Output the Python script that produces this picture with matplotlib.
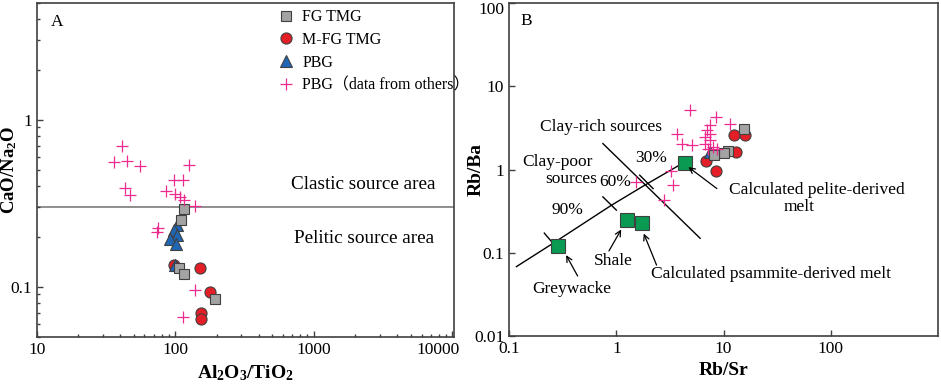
import matplotlib
matplotlib.use("Agg")
from matplotlib import pyplot as plt, ticker, transforms

plt.rcParams['font.family'] = ['Liberation Serif', 'Noto Sans CJK SC']
plt.rcParams['mathtext.fontset'] = 'custom'
plt.rcParams['mathtext.rm'] = 'Liberation Serif'
plt.rcParams['mathtext.bf'] = 'Liberation Serif:bold'

# Panel A data (Al2O3/TiO2 vs CaO/Na2O)
a_fg_x = [116.6, 109.8, 105.7, 116.6, 194.5]
a_fg_y = [0.291, 0.250, 0.130, 0.119, 0.084]
a_mfg_x = [98.4, 151.7, 179.0, 153.5, 153.5]
a_mfg_y = [0.135, 0.129, 0.093, 0.070, 0.064]
a_pbg_x = [102.8, 97.3, 102.8, 92.1, 101.6, 100.0]
a_pbg_y = [0.233, 0.218, 0.203, 0.192, 0.181, 0.136]
a_oth_x = [41.2, 36.4, 44.8, 55.8, 43.5, 47.3, 124.8, 97.3, 113.7, 86.1, 100.0,
           107.4, 114.8, 139.6, 75.7, 73.8, 139.6, 113.7]
a_oth_y = [0.695, 0.561, 0.565, 0.528, 0.390, 0.356, 0.533, 0.438, 0.438, 0.374, 0.361,
           0.345, 0.333, 0.303, 0.226, 0.213, 0.0955, 0.066]
a_boundary = 0.3
a_xticks = [10, 100, 1000, 10000]
a_xticklabels = ['10', '100', '1000', '10000']
a_yticks = [0.1, 1]
a_yticklabels = ['0.1', '1']

# Panel B data (Rb/Sr vs Rb/Ba)
b_fg_x = [15.4, 11.1, 10.0, 8.17]
b_fg_y = [3.05, 1.66, 1.56, 1.49]
b_mfg_x = [12.6, 15.9, 13.1, 6.83, 8.53]
b_mfg_y = [2.63, 2.63, 1.63, 1.27, 0.96]
b_pbg_x = [7.5]
b_pbg_y = [1.63]
b_oth_x = [4.9, 8.4, 11.5, 7.4, 7.0, 3.7, 7.4, 6.7, 4.1, 7.5, 5.1, 6.7, 8.0, 7.2, 8.6,
           3.2, 3.4, 1.54, 2.8]
b_oth_y = [5.2, 4.3, 3.55, 3.4, 2.95, 2.7, 2.7, 2.45, 2.05, 2.25, 1.95, 2.05, 1.87, 1.78, 1.74,
           0.97, 0.66, 0.71, 0.43]
b_ref_x = [0.287, 1.26, 1.73, 4.33]
b_ref_y = [0.12, 0.247, 0.225, 1.21]
mix_x = [0.117, 0.255, 0.90, 1.84, 4.2]
mix_y = [0.068, 0.129, 0.372, 0.648, 1.2]
mix_ticks = [((0.213, 0.172), (0.27, 0.12)),
             ((0.749, 0.469), (1.0, 0.325)),
             ((1.65, 0.855), (2.2, 0.59))]
divide_x = [0.749, 6.04]
divide_y = [2.05, 0.149]
b_xticks = [0.1, 1, 10, 100]
b_xticklabels = ['0.1', '1', '10', '100']
b_yticks = [0.01, 0.1, 1, 10, 100]
b_yticklabels = ['0.01', '0.1', '1', '10', '100']

gray, red, blue, pink, green = '#a3a3a3', '#e41e26', '#1f66b5', '#ee2a8f', '#0a9a52'
edge = '#404040'
spine_col = '#404040'
fs = 12.5

fig = plt.figure(figsize=(9.41, 3.87), dpi=100)
axA = fig.add_axes([0.039, 0.129, 0.4435, 0.863])
axB = fig.add_axes([0.541, 0.132, 0.456, 0.860])

def style(ax):
    for s in ax.spines.values():
        s.set_color(spine_col)
        s.set_linewidth(1.2)
    ax.tick_params(which='both', direction='in', colors=spine_col, labelcolor='black',
                   labelsize=12.5, width=1)
    ax.tick_params(which='major', length=4)
    ax.tick_params(which='minor', length=2.5)

# ---- Panel A ----
axA.set_xscale('log')
axA.set_yscale('log')
axA.axhline(a_boundary, color='#707070', lw=1.1, zorder=1)
axA.plot(a_mfg_x, a_mfg_y, 'o', ms=8, mfc=red, mec=edge, mew=0.8, ls='none', label='M-FG TMG', zorder=3)
axA.plot(a_pbg_x, a_pbg_y, '^', ms=9, mfc=blue, mec=edge, mew=0.8, ls='none', label='PBG', zorder=4)
axA.plot(a_fg_x, a_fg_y, 's', ms=7.5, mfc=gray, mec=edge, mew=0.8, ls='none', label='FG TMG', zorder=5)
axA.plot(a_oth_x, a_oth_y, '+', ms=9, color=pink, mew=0.9, ls='none', label='PBG（data from others）', zorder=6)
axA.set_xlim(10, 10300)
axA.set_ylim(0.05, 5)
axA.xaxis.set_major_locator(ticker.FixedLocator(a_xticks))
axA.xaxis.set_major_formatter(ticker.FixedFormatter(a_xticklabels))
axA.yaxis.set_major_locator(ticker.FixedLocator(a_yticks))
axA.yaxis.set_major_formatter(ticker.FixedFormatter(a_yticklabels))
axA.xaxis.set_minor_locator(ticker.LogLocator(subs=range(2, 10)))
axA.yaxis.set_minor_locator(ticker.LogLocator(subs=range(2, 10)))
axA.xaxis.set_minor_formatter(ticker.NullFormatter())
axA.yaxis.set_minor_formatter(ticker.NullFormatter())
style(axA)
axA.set_xlabel(r'$\mathbf{Al_2O_3/TiO_2}$', fontsize=14, labelpad=4)
axA.set_ylabel(r'$\mathbf{CaO/Na_2O}$', fontsize=13.5)
axA.yaxis.set_label_coords(-0.043, 0.5)
axA.text(0.048, 0.944, 'A', transform=axA.transAxes, fontsize=fs, va='center', ha='center')
axA.text(2260, 0.409, 'Clastic source area', fontsize=13.8, ha='center', va='center')
axA.text(2290, 0.194, 'Pelitic source area', fontsize=13.8, ha='center', va='center')
h, l = axA.get_legend_handles_labels()
order = [2, 0, 1, 3]
axA.legend([h[i] for i in order], [l[i] for i in order], loc='upper left',
           bbox_to_anchor=(0.556, 1.01), frameon=False, fontsize=11.5, handlelength=1.0,
           handletextpad=0.5, labelspacing=0.42, borderaxespad=0.2)

# ---- Panel B ----
axB.set_xscale('log')
axB.set_yscale('log')
axB.plot(mix_x, mix_y, color='black', lw=1, zorder=2)
for (x0, y0), (x1, y1) in mix_ticks:
    axB.plot([x0, x1], [y0, y1], color='black', lw=1, zorder=2)
axB.plot(divide_x, divide_y, color='black', lw=1, zorder=2)
axB.plot(b_ref_x, b_ref_y, 's', ms=10, mfc=green, mec=edge, mew=0.8, ls='none', zorder=3)
axB.plot(b_mfg_x, b_mfg_y, 'o', ms=8, mfc=red, mec=edge, mew=0.8, ls='none', zorder=3)
axB.plot(b_pbg_x, b_pbg_y, '^', ms=9, mfc=blue, mec=edge, mew=0.8, ls='none', zorder=4)
axB.plot(b_fg_x, b_fg_y, 's', ms=7.5, mfc=gray, mec=edge, mew=0.8, ls='none', zorder=5)
axB.plot(b_oth_x, b_oth_y, '+', ms=9, color=pink, mew=0.9, ls='none', zorder=6)
axB.set_xlim(0.1, 1000)
axB.set_ylim(0.01, 100)
axB.xaxis.set_major_locator(ticker.FixedLocator(b_xticks))
axB.xaxis.set_major_formatter(ticker.FixedFormatter(b_xticklabels))
axB.yaxis.set_major_locator(ticker.FixedLocator(b_yticks))
axB.yaxis.set_major_formatter(ticker.FixedFormatter(b_yticklabels))
axB.xaxis.set_minor_locator(ticker.NullLocator())
axB.yaxis.set_minor_locator(ticker.NullLocator())
style(axB)
axB.set_xlabel('Rb/Sr', fontsize=14, fontweight='bold', labelpad=4)
axB.set_ylabel('Rb/Ba', fontsize=14, fontweight='bold')
axB.yaxis.set_label_coords(-0.057, 0.5)
axB.text(0.039, 0.947, 'B', transform=axB.transAxes, fontsize=fs, va='center', ha='center')

arr = dict(arrowstyle='->', color='black', lw=0.9, shrinkA=0, shrinkB=0)
axB.annotate('', xy=(0.34, 0.0936), xytext=(0.436, 0.0524), arrowprops=arr)
axB.annotate('', xy=(1.11, 0.19), xytext=(0.853, 0.105), arrowprops=arr)
axB.annotate('', xy=(1.8, 0.17), xytext=(2.37, 0.071), arrowprops=arr)
axB.annotate('', xy=(4.69, 1.07), xytext=(8.65, 0.59), arrowprops=arr)

axB.text(0.72, 3.25, 'Clay-rich sources', fontsize=fs, ha='center', va='center')
axB.text(0.284, 1.23, 'Clay-poor', fontsize=fs, ha='center', va='center')
axB.text(0.378, 0.76, 'sources', fontsize=fs, ha='center', va='center')
axB.text(2.12, 1.36, '30%', fontsize=fs, ha='center', va='center')
axB.text(0.985, 0.70, '60%', fontsize=fs, ha='center', va='center')
axB.text(0.348, 0.325, '90%', fontsize=fs, ha='center', va='center')
axB.text(73.3, 0.565, 'Calculated pelite-derived', fontsize=fs, ha='center', va='center')
axB.text(50.4, 0.35, 'melt', fontsize=fs, ha='center', va='center')
axB.text(0.944, 0.079, 'Shale', fontsize=fs, ha='center', va='center')
axB.text(27.9, 0.055, 'Calculated psammite-derived melt', fontsize=fs, ha='center', va='center')
axB.text(0.384, 0.0366, 'Greywacke', fontsize=fs, ha='center', va='center')

# nudge edge tick labels inward like the original figure
fig.canvas.draw()
lab = axA.xaxis.get_major_ticks()[-1].label1
lab.set_transform(lab.get_transform() + transforms.ScaledTranslation(-14 / 100, 0, fig.dpi_scale_trans))
lab = axB.yaxis.get_major_ticks()[-1].label1
lab.set_transform(lab.get_transform() + transforms.ScaledTranslation(0, -5 / 100, fig.dpi_scale_trans))

fig.savefig('out.png', dpi=100)
